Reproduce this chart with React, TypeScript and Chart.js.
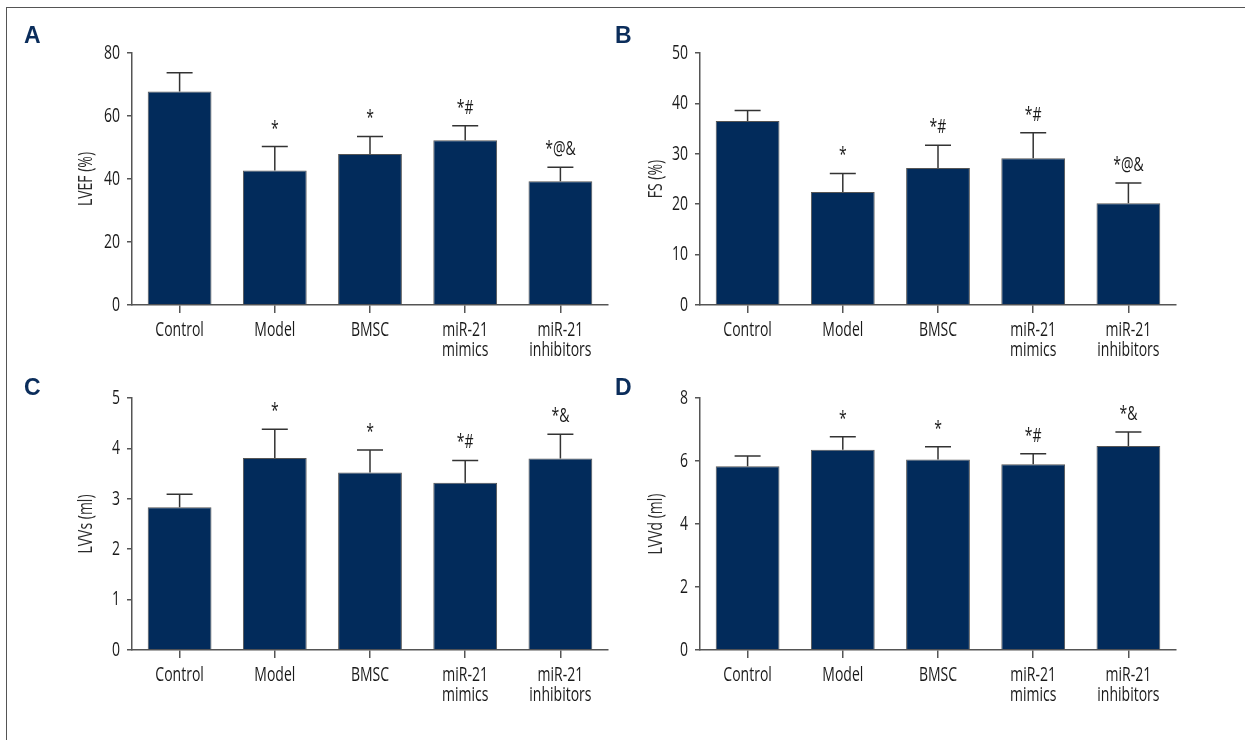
import React, { useEffect, useRef } from "react";
import { Chart, registerables } from "chart.js";

Chart.register(...registerables);

const FONT = '"Open Sans", "Noto Sans", "Liberation Sans", sans-serif';
const CONDENSE = 0.7;

// ---- data ----
const categories: (string | string[])[] = [
  "Control",
  "Model",
  "BMSC",
  ["miR-21", "mimics"],
  ["miR-21", "inhibitors"],
];

const lvefMeans = [67.8, 42.7, 47.9, 52.3, 39.3];
const lvefSD = [5.9, 7.6, 5.6, 4.6, 4.4];
const lvefMarks = ["", "*", "*", "*#", "*@&"];

const fsMeans = [36.5, 22.4, 27.2, 29.1, 20.2];
const fsSD = [2.1, 3.7, 4.5, 5.1, 4.0];
const fsMarks = ["", "*", "*#", "*#", "*@&"];

const lvvsMeans = [2.83, 3.81, 3.52, 3.32, 3.8];
const lvvsSD = [0.26, 0.57, 0.45, 0.44, 0.48];
const lvvsMarks = ["", "*", "*", "*#", "*&"];

const lvvdMeans = [5.83, 6.36, 6.05, 5.9, 6.48];
const lvvdSD = [0.33, 0.41, 0.4, 0.33, 0.44];
const lvvdMarks = ["", "*", "*", "*#", "*&"];

type PanelCfg = {
  letter: string;
  left: number;
  top: number;
  width: number;
  height: number;
  yWidth: number;
  padTop: number;
  padRight: number;
  xHeight: number;
  titleCenter: number;
  yTitle: string;
  yMax: number;
  yStep: number;
  means: number[];
  sds: number[];
  marks: string[];
};

const panels: PanelCfg[] = [
  {
    letter: "A", left: 0, top: 0, width: 620, height: 370,
    yWidth: 132, padTop: 53, padRight: 12, xHeight: 65, titleCenter: 86,
    yTitle: "LVEF (%)", yMax: 80, yStep: 20,
    means: lvefMeans, sds: lvefSD, marks: lvefMarks,
  },
  {
    letter: "B", left: 620, top: 0, width: 625, height: 370,
    yWidth: 80, padTop: 53, padRight: 69, xHeight: 65, titleCenter: 36,
    yTitle: "FS (%)", yMax: 50, yStep: 10,
    means: fsMeans, sds: fsSD, marks: fsMarks,
  },
  {
    letter: "C", left: 0, top: 370, width: 620, height: 370,
    yWidth: 132, padTop: 28, padRight: 12, xHeight: 90, titleCenter: 86,
    yTitle: "LVVs (ml)", yMax: 5, yStep: 1,
    means: lvvsMeans, sds: lvvsSD, marks: lvvsMarks,
  },
  {
    letter: "D", left: 620, top: 370, width: 625, height: 370,
    yWidth: 80, padTop: 28, padRight: 69, xHeight: 90, titleCenter: 36,
    yTitle: "LVVd (ml)", yMax: 8, yStep: 2,
    means: lvvdMeans, sds: lvvdSD, marks: lvvdMarks,
  },
];

// draw all canvas text horizontally condensed (reference uses a condensed face)
function condenseText(ctx: any) {
  if (ctx.__condensed) return;
  const orig = ctx.fillText.bind(ctx);
  ctx.fillText = (text: string, x: number, y: number, maxWidth?: number) => {
    ctx.save();
    ctx.translate(x, y);
    ctx.scale(CONDENSE, 1);
    if (maxWidth !== undefined && maxWidth !== null) orig(text, 0, 0, maxWidth / CONDENSE);
    else orig(text, 0, 0);
    ctx.restore();
  };
  ctx.__condensed = true;
}

const condensePlugin = {
  id: "condense",
  beforeInit(chart: any) {
    condenseText(chart.ctx);
  },
};

const errPlugin = {
  id: "errBars",
  afterDatasetsDraw(chart: any, _args: any, opts: any) {
    const { ctx } = chart;
    const meta = chart.getDatasetMeta(0);
    const yScale = chart.scales.y;
    const data = chart.data.datasets[0].data as number[];
    const sds: number[] = opts.sds;
    const marks: string[] = opts.marks;
    ctx.save();
    ctx.strokeStyle = "#333";
    ctx.lineWidth = 1.5;
    ctx.fillStyle = "#1a1a1a";
    ctx.font = `20px ${FONT}`;
    ctx.textAlign = "center";
    ctx.textBaseline = "alphabetic";
    meta.data.forEach((bar: any, i: number) => {
      const base = yScale.getPixelForValue(data[i]);
      const top = yScale.getPixelForValue(data[i] + sds[i]);
      ctx.beginPath();
      ctx.moveTo(bar.x, base);
      ctx.lineTo(bar.x, top);
      ctx.moveTo(bar.x - 13, top);
      ctx.lineTo(bar.x + 13, top);
      ctx.stroke();
      if (marks[i]) ctx.fillText(marks[i], bar.x, top - 12);
    });
    ctx.restore();
  },
};

function Panel({ cfg }: { cfg: PanelCfg }) {
  const ref = useRef<HTMLCanvasElement | null>(null);
  useEffect(() => {
    if (!ref.current) return;
    const chart = new Chart(ref.current, {
      type: "bar",
      data: {
        labels: categories,
        datasets: [
          {
            data: cfg.means,
            backgroundColor: "#022b5b",
            borderColor: "#555",
            borderWidth: 1,
            barPercentage: 0.67,
            categoryPercentage: 1,
          },
        ],
      },
      options: {
        animation: false,
        responsive: false,
        devicePixelRatio: 1,
        layout: { padding: { top: cfg.padTop, right: cfg.padRight, bottom: 0, left: 0 } },
        plugins: {
          legend: { display: false },
          tooltip: { enabled: false },
          errBars: { sds: cfg.sds, marks: cfg.marks },
        } as any,
        scales: {
          x: {
            offset: true,
            grid: {
              offset: false,
              drawOnChartArea: false,
              drawTicks: true,
              tickLength: 8,
              color: "#555",
              lineWidth: 1.5,
            },
            border: { display: true, color: "#555", width: 1.5 },
            ticks: {
              font: { family: FONT, size: 20, lineHeight: 1.0 },
              color: "#1a1a1a",
              padding: 7,
              maxRotation: 0,
              autoSkip: false,
            },
            afterFit: (s: any) => {
              s.height = cfg.xHeight;
            },
          },
          y: {
            min: 0,
            max: cfg.yMax,
            ticks: {
              stepSize: cfg.yStep,
              font: { family: FONT, size: 20 },
              color: "#1a1a1a",
              padding: 7,
            },
            grid: {
              drawOnChartArea: false,
              drawTicks: true,
              tickLength: 5,
              color: "#555",
              lineWidth: 1.5,
            },
            border: { display: true, color: "#555", width: 1.5 },
            title: {
              display: true,
              text: cfg.yTitle,
              font: { family: FONT, size: 20 },
              color: "#2a2a2a",
              padding: { top: cfg.titleCenter - 12, bottom: 0 },
            },
            afterFit: (s: any) => {
              s.width = cfg.yWidth;
            },
          },
        },
      },
      plugins: [condensePlugin, errPlugin],
    });
    return () => chart.destroy();
  }, [cfg]);

  const letterLeft = cfg.left === 0 ? 24 : -5;
  return (
    <div
      style={{
        position: "absolute",
        left: cfg.left,
        top: cfg.top,
        width: cfg.width,
        height: cfg.height,
      }}
    >
      <canvas
        ref={ref}
        width={cfg.width}
        height={cfg.height}
        style={{ width: cfg.width, height: cfg.height, display: "block" }}
      />
      <div
        style={{
          position: "absolute",
          left: letterLeft,
          top: cfg.top === 0 ? 24 : 6,
          fontFamily: '"Liberation Sans", Arial, sans-serif',
          fontWeight: 700,
          fontSize: 23,
          lineHeight: "23px",
          color: "#0b2d5b",
        }}
      >
        {cfg.letter}
      </div>
    </div>
  );
}

export default function App() {
  return (
    <div
      style={{
        position: "absolute",
        left: 0,
        top: 0,
        width: 1245,
        height: 740,
        background: "#fff",
        overflow: "hidden",
      }}
    >
      <div
        style={{
          position: "absolute",
          left: 6,
          top: 7,
          width: 1245,
          height: 740,
          borderTop: "1px solid #555",
          borderLeft: "1px solid #555",
        }}
      />
      {panels.map((p) => (
        <Panel key={p.letter} cfg={p} />
      ))}
    </div>
  );
}
